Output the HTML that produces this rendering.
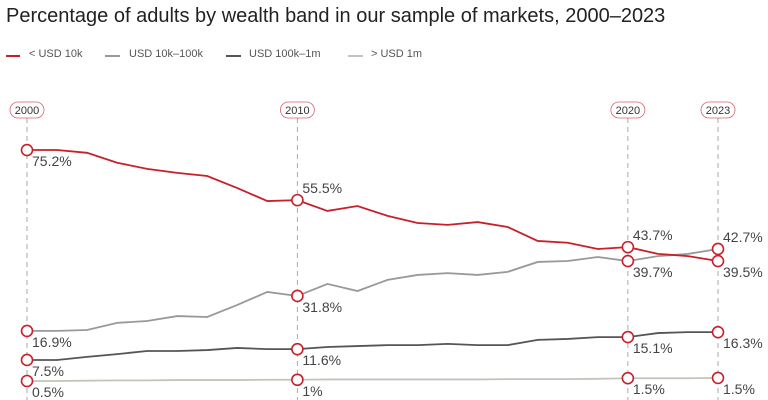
<!DOCTYPE html>
<html><head><meta charset="utf-8"><style>
body{margin:0;background:#fff;width:768px;height:400px;overflow:hidden;font-family:"Liberation Sans",sans-serif}
</style></head><body>
<svg width="768" height="400" id="chart" style="position:absolute;left:0;top:0">
<text x="6" y="22" font-size="20" fill="#222">Percentage of adults by wealth band in our sample of markets, 2000–2023</text>
<g font-size="11" fill="#555">
<g><line x1="6" y1="56" x2="20" y2="56" stroke="#c8202a" stroke-width="2"/><text x="29" y="57">&lt; USD 10k</text></g>
<g><line x1="105" y1="56" x2="120" y2="56" stroke="#999" stroke-width="2"/><text x="129" y="57">USD 10k–100k</text></g>
<g><line x1="226" y1="56" x2="241" y2="56" stroke="#555" stroke-width="2"/><text x="249" y="57">USD 100k–1m</text></g>
<g><line x1="348" y1="56" x2="363" y2="56" stroke="#c4c4bc" stroke-width="2"/><text x="371" y="57">&gt; USD 1m</text></g>
</g>
<g id="plot"></g>
</svg>
<script>
const years=[2000,2001,2002,2003,2004,2005,2006,2007,2008,2009,2010,2011,2012,2013,2014,2015,2016,2017,2018,2019,2020,2021,2022,2023];
const under10k=[75.2,75.2,74.3,71.1,69.1,67.8,66.8,62.9,58.7,59.0,55.5,57.1,53.9,51.6,51.0,51.9,50.3,45.8,45.2,43.2,43.8,41.6,40.9,39.3];
const mid10k100k=[16.7,16.7,17.0,19.3,19.9,21.5,21.2,25.1,29.3,28.0,31.9,29.6,33.2,34.8,35.4,34.8,35.8,39.0,39.3,40.6,39.3,40.9,41.6,43.2];
const mid100k1m=[7.3,7.3,8.3,9.2,10.2,10.2,10.5,11.2,10.8,10.8,11.5,11.8,12.1,12.1,12.5,12.1,12.1,13.8,14.1,14.7,14.7,16.0,16.3,16.3];
const over1m=[0.5,0.5,0.6,0.7,0.7,0.8,0.8,0.8,0.9,0.9,1.0,1.0,1.0,1.0,1.0,1.0,1.1,1.1,1.1,1.2,1.4,1.4,1.4,1.5];
const markerIdx=[0,9,20,23];
const markerYears=["2000","2010","2020","2023"];
const labelsUnder10k=["75.2%","55.5%","43.7%","39.5%"];
const labels10k100k=["16.9%","31.8%","39.7%","42.7%"];
const labels100k1m=["7.5%","11.6%","15.1%","16.3%"];
const labelsOver1m=["0.5%","1%","1.5%","1.5%"];

const NS="http://www.w3.org/2000/svg";
const plot=document.getElementById('plot');
const x=i=>27+i*(718-27)/(years.length-1);
const y=v=>381-(v-0.5)*3.092;
function mk(tag,attrs){const e=document.createElementNS(NS,tag);for(const k in attrs)e.setAttribute(k,attrs[k]);plot.appendChild(e);return e;}

markerIdx.forEach((idx,k)=>{
  const g=mk('line',{x1:x(idx),x2:x(idx),y1:118,y2:400,stroke:'#aaa','stroke-dasharray':'5,4','stroke-width':1});
  
  
  const r=mk('rect',{x:x(idx)-17,y:102,width:34,height:16,rx:8,fill:'#fff',stroke:'#c8202a','stroke-width':0.8,'stroke-opacity':0.7});
  
  
  const t=mk('text',{x:x(idx),y:114,'font-size':11,fill:'#333','text-anchor':'middle'});
  t.textContent=markerYears[k];
  
  
});

const series=[
 {name:'over-1m',vals:over1m,color:'#c4c4bc',labels:labelsOver1m,above:[0,0,0,0]},
 {name:'100k-1m',vals:mid100k1m,color:'#555',labels:labels100k1m,above:[0,0,0,0]},
 {name:'10k-100k',vals:mid10k100k,color:'#999',labels:labels10k100k,above:[0,0,0,1]},
 {name:'under-10k',vals:under10k,color:'#c8202a',labels:labelsUnder10k,above:[0,1,1,0]}
];
series.forEach(s=>{
  const p=mk('polyline',{points:s.vals.map((v,i)=>x(i)+','+y(v)).join(' '),fill:'none',stroke:s.color,'stroke-width':1.8});
  
  
});
series.forEach(s=>{
  markerIdx.forEach((idx,k)=>{
    const c=mk('circle',{cx:x(idx),cy:y(s.vals[idx]),r:5.5,fill:'#fff',stroke:'#c8202a','stroke-width':1.6});
    
    
    const ab=s.above[k];
    const t=mk('text',{x:x(idx)+5,y:y(s.vals[idx])+(ab?-7:16),'font-size':14,fill:'#444'});
    t.textContent=s.labels[k];
    
    
  });
});
</script>
</body></html>
